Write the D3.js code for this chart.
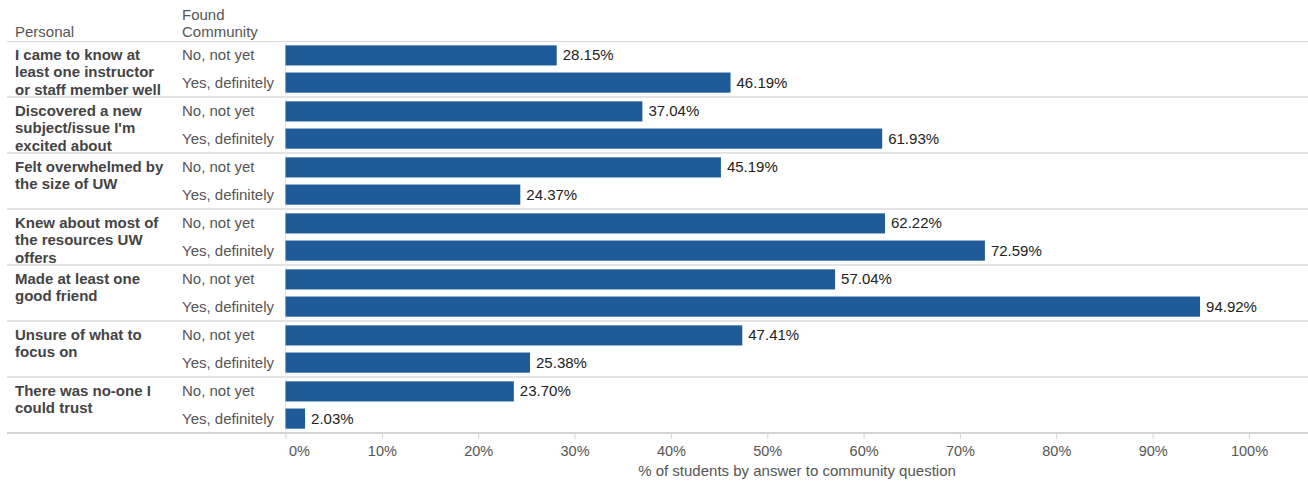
<!DOCTYPE html>
<html>
<head>
<meta charset="utf-8">
<script src="https://cdn.jsdelivr.net/npm/d3@7"></script>
<style>
  body { margin: 0; background: #fff; }
  svg { display: block; font-family: "Liberation Sans", Arial, sans-serif; }
</style>
</head>
<body>
<svg id="chart" width="1308" height="481"></svg>
<script>
// Survey items (row groups), wrapped as drawn
const groups = [
  ["I came to know at", "least one instructor", "or staff member well"],
  ["Discovered a new", "subject/issue I'm", "excited about"],
  ["Felt overwhelmed by", "the size of UW"],
  ["Knew about most of", "the resources UW", "offers"],
  ["Made at least one", "good friend"],
  ["Unsure of what to", "focus on"],
  ["There was no-one I", "could trust"]
];
const answers = ["No, not yet", "Yes, definitely"];
// % of students, per group: [No, not yet, Yes, definitely]
const noValues  = [28.15, 37.04, 45.19, 62.22, 57.04, 47.41, 23.70];
const yesValues = [46.19, 61.93, 24.37, 72.59, 94.92, 25.38, 2.03];
const tickValues = [0, 10, 20, 30, 40, 50, 60, 70, 80, 90, 100];
const axisTitle = "% of students by answer to community question";

(function () {
  const rows = [];
  groups.forEach((g, i) => {
    rows.push({ group: i, answer: answers[0], value: noValues[i] });
    rows.push({ group: i, answer: answers[1], value: yesValues[i] });
  });

  const svg = d3.select("#chart");
  const W = 1308;
  const paneLeft = 285.5, paneRight = 1249;
  const paneTop = 41, groupH = 56;
  const paneBottom = paneTop + groups.length * groupH;

  const x = d3.scaleLinear().domain([0, 100]).range([paneLeft, paneRight]);
  const yGroup = d3.scaleBand().domain(d3.range(groups.length)).range([paneTop, paneBottom]);
  const yInner = d3.scaleBand().domain(answers).range([0, groupH]).paddingInner(0.26).paddingOuter(0.16);

  const textCol = "#555";
  const fs = 15;

  // headers
  svg.append("text").attr("x", 15).attr("y", 37).attr("font-size", fs).attr("fill", textCol).text("Personal");
  svg.append("text").attr("x", 182).attr("y", 20).attr("font-size", fs).attr("fill", textCol).text("Found");
  svg.append("text").attr("x", 182).attr("y", 37).attr("font-size", fs).attr("fill", textCol).text("Community");

  // horizontal rules
  svg.append("line").attr("x1", 7).attr("x2", W).attr("y1", paneTop + 0.5).attr("y2", paneTop + 0.5)
    .attr("stroke", "#d9d9d9").attr("stroke-width", 1);
  d3.range(1, groups.length).forEach(i => {
    const yy = yGroup(i);
    svg.append("line").attr("x1", 7).attr("x2", W).attr("y1", yy).attr("y2", yy)
      .attr("stroke", "#e3e3e3").attr("stroke-width", 2);
  });
  // left edge of the bar pane
  svg.append("line").attr("x1", paneLeft).attr("x2", paneLeft).attr("y1", paneTop).attr("y2", paneBottom)
    .attr("stroke", "#e8e8e8").attr("stroke-width", 1);

  // group labels
  const gl = svg.append("g");
  groups.forEach((lines, i) => {
    const t = gl.append("text").attr("x", 15).attr("y", yGroup(i) + 18.5)
      .attr("font-size", fs).attr("font-weight", "bold").attr("fill", "#444");
    lines.forEach((l, k) => t.append("tspan").attr("x", 15).attr("dy", k === 0 ? 0 : 17.5).text(l));
  });

  // answer labels, bars, value labels
  const rowG = svg.append("g").selectAll("g").data(rows).join("g")
    .attr("transform", d => `translate(0,${yGroup(d.group) + yInner(d.answer)})`);

  rowG.append("text").attr("x", 182).attr("y", yInner.bandwidth() / 2 + 5)
    .attr("font-size", fs).attr("fill", textCol).text(d => d.answer);

  rowG.append("rect")
    .attr("x", x(0)).attr("y", 0)
    .attr("width", d => x(d.value) - x(0))
    .attr("height", yInner.bandwidth())
    .attr("fill", "#1f5b99");

  rowG.append("text")
    .attr("x", d => x(d.value) + 6).attr("y", yInner.bandwidth() / 2 + 5)
    .attr("font-size", fs).attr("fill", "#222")
    .text(d => d.value.toFixed(2) + "%");

  // bottom axis
  svg.append("line").attr("x1", 7).attr("x2", W).attr("y1", paneBottom).attr("y2", paneBottom)
    .attr("stroke", "#d4d4d4").attr("stroke-width", 2);

  const axis = d3.axisBottom(x).tickValues(tickValues).tickFormat(d => d + "%").tickSize(5).tickPadding(8);
  const ag = svg.append("g").attr("transform", `translate(0,${paneBottom + 1})`).call(axis);
  ag.select(".domain").remove();
  ag.selectAll(".tick line").attr("stroke", "#d4d4d4");
  ag.selectAll(".tick text").attr("font-size", 14.5).attr("fill", textCol)
    .attr("font-family", "Liberation Sans, Arial, sans-serif")
    .attr("y", 22).attr("dy", null)
    .attr("text-anchor", d => d === 0 ? "start" : "middle")
    .attr("dx", d => d === 0 ? 3 : 0);

  svg.append("text").attr("x", 797).attr("y", 476).attr("text-anchor", "middle")
    .attr("font-size", fs).attr("fill", textCol).text(axisTitle);
})();
</script>
</body>
</html>
